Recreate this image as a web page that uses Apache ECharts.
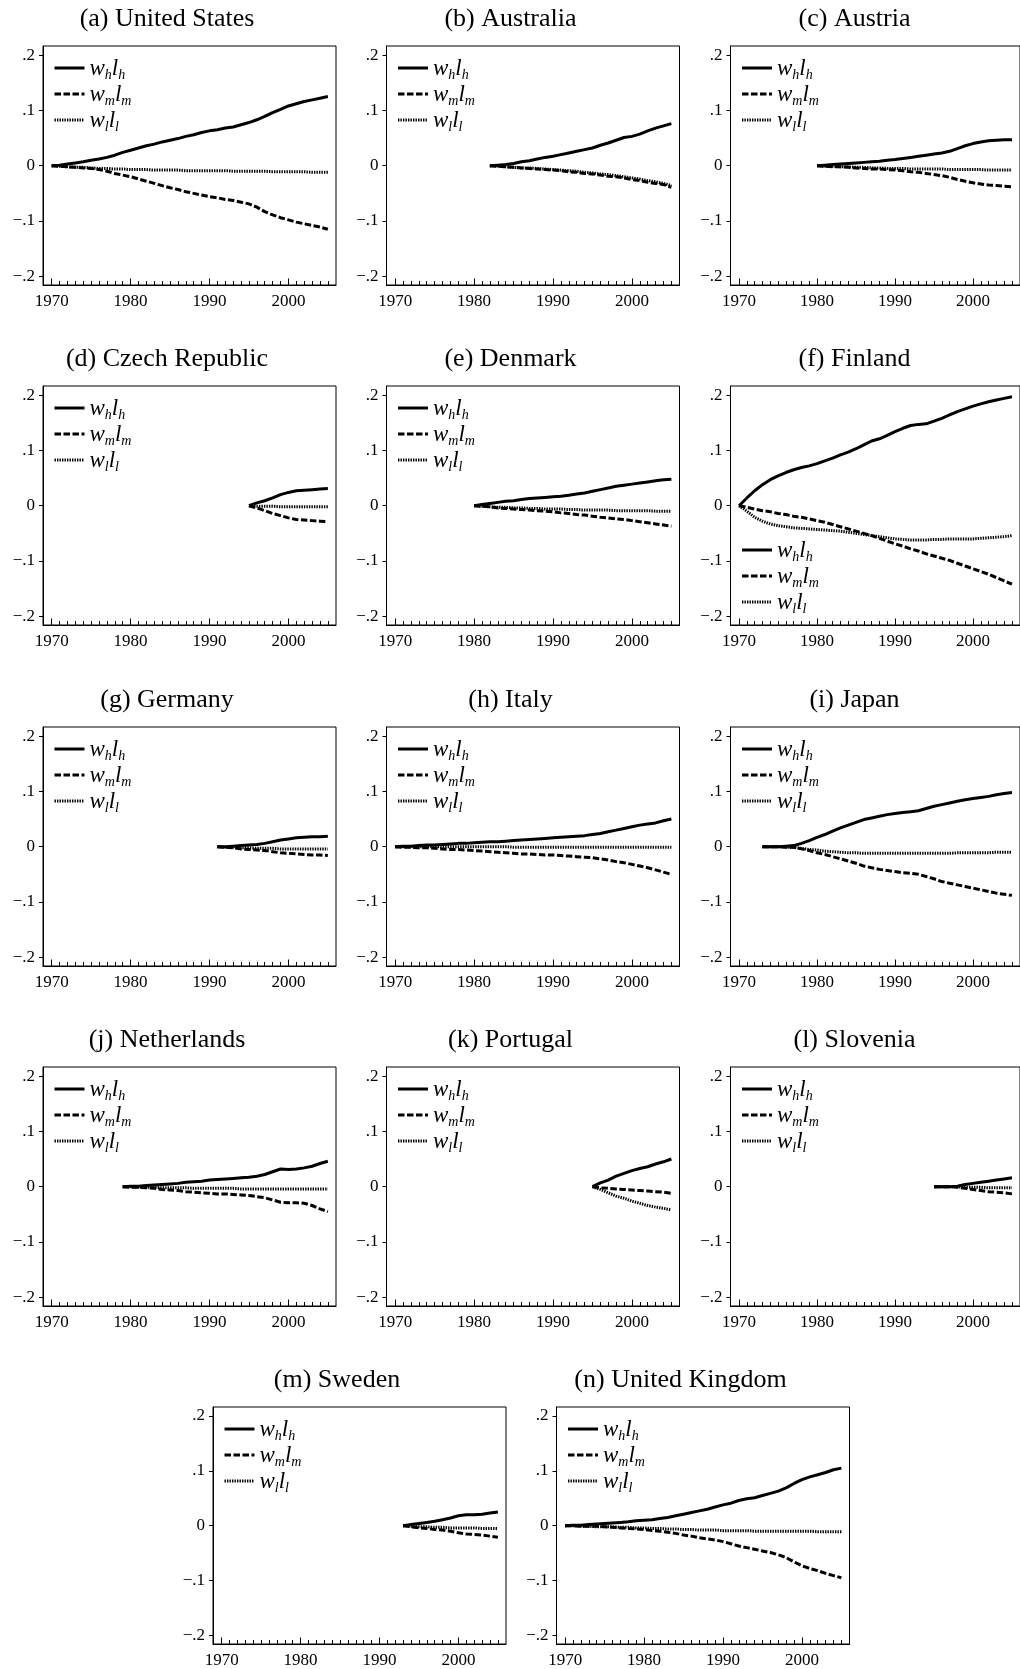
<!DOCTYPE html>
<html><head><meta charset="utf-8">
<script src="https://cdn.jsdelivr.net/npm/echarts/dist/echarts.min.js"></script>
<style>html,body{margin:0;padding:0;background:#fff}#c{width:1020px;height:1669px}</style>
</head><body><div id="c"></div>
<script>
const FONT = '"Liberation Serif","Times New Roman","DejaVu Serif",serif';

const panelTitles = ['(a) United States','(b) Australia','(c) Austria','(d) Czech Republic','(e) Denmark','(f) Finland',
  '(g) Germany','(h) Italy','(i) Japan','(j) Netherlands','(k) Portugal','(l) Slovenia','(m) Sweden','(n) United Kingdom'];
const startYears = [1970,1982,1980,1995,1980,1970,1991,1970,1973,1979,1995,1995,1993,1970];
const seriesNames = ['h','m','l'];
const yTickValues = [-0.2,-0.1,0,0.1,0.2];
const yTickLabels = ['\u2212.2','\u2212.1','0','.1','.2'];
const xMajorTicks = [1970,1980,1990,2000];
const xMinorTicks = [1970,1971,1972,1973,1974,1975,1976,1977,1978,1979,1980,1981,1982,1983,1984,1985,1986,1987,1988,1989,
  1990,1991,1992,1993,1994,1995,1996,1997,1998,1999,2000,2001,2002,2003,2004,2005];

// United States 1970-2005
const usH = [0,.001,.003,.005,.007,.010,.012,.015,.019,.024,.028,.032,.036,.039,.043,.046,.049,.053,.056,.060,.063,.065,.068,.070,.074,.078,.083,.089,.096,.102,.108,.112,.116,.119,.122,.125];
const usM = [0,-.001,-.002,-.003,-.004,-.005,-.007,-.010,-.014,-.017,-.020,-.024,-.028,-.032,-.036,-.040,-.043,-.047,-.050,-.053,-.056,-.058,-.061,-.063,-.066,-.069,-.075,-.083,-.089,-.094,-.098,-.102,-.105,-.108,-.111,-.115];
const usL = [0,-.001,-.002,-.003,-.003,-.004,-.005,-.005,-.006,-.006,-.007,-.007,-.007,-.008,-.008,-.008,-.008,-.009,-.009,-.009,-.009,-.009,-.009,-.010,-.010,-.010,-.010,-.010,-.011,-.011,-.011,-.011,-.011,-.012,-.012,-.012];
// Australia 1982-2005
const auH = [0,.001,.002,.004,.007,.009,.012,.015,.017,.020,.023,.026,.029,.032,.037,.041,.046,.051,.053,.057,.063,.068,.072,.076];
const auM = [0,-.001,-.002,-.003,-.004,-.005,-.006,-.007,-.008,-.009,-.011,-.012,-.014,-.015,-.017,-.019,-.020,-.022,-.025,-.027,-.030,-.032,-.034,-.039];
const auL = [0,-.001,-.002,-.003,-.004,-.004,-.005,-.006,-.007,-.008,-.009,-.010,-.012,-.013,-.015,-.016,-.018,-.020,-.022,-.024,-.027,-.029,-.032,-.036];
// Austria 1980-2005
const atH = [0,.001,.002,.003,.004,.005,.006,.007,.008,.010,.011,.013,.015,.017,.019,.021,.023,.026,.031,.036,.040,.043,.045,.046,.047,.047];
const atM = [0,-.001,-.002,-.002,-.003,-.004,-.005,-.006,-.006,-.007,-.008,-.009,-.011,-.012,-.014,-.016,-.018,-.021,-.025,-.028,-.031,-.033,-.035,-.036,-.037,-.038];
const atL = [0,-.001,-.001,-.002,-.002,-.003,-.003,-.004,-.004,-.005,-.005,-.005,-.006,-.006,-.006,-.006,-.006,-.007,-.007,-.007,-.007,-.007,-.008,-.008,-.008,-.008];
// Czech Republic 1995-2005
const czH = [0,.005,.009,.014,.020,.024,.027,.028,.029,.030,.031];
const czM = [0,-.004,-.009,-.014,-.018,-.022,-.025,-.026,-.027,-.028,-.029];
const czL = [0,-.001,-.001,-.001,-.002,-.002,-.002,-.002,-.002,-.002,-.002];
// Denmark 1980-2005
const dkH = [0,.002,.004,.006,.008,.009,.011,.013,.014,.015,.016,.017,.019,.021,.023,.026,.029,.032,.035,.037,.039,.041,.043,.045,.047,.048];
const dkM = [0,-.001,-.002,-.004,-.005,-.006,-.007,-.008,-.009,-.010,-.011,-.013,-.014,-.016,-.017,-.019,-.021,-.022,-.024,-.025,-.027,-.029,-.031,-.033,-.035,-.037];
const dkL = [0,-.001,-.002,-.003,-.003,-.004,-.004,-.005,-.005,-.006,-.006,-.006,-.007,-.007,-.008,-.008,-.008,-.008,-.009,-.009,-.009,-.009,-.009,-.010,-.010,-.010];
// Finland 1970-2005
const fiH = [0,.014,.027,.038,.047,.054,.060,.065,.069,.072,.076,.081,.086,.092,.097,.103,.110,.117,.121,.127,.134,.140,.145,.147,.148,.153,.158,.164,.170,.175,.180,.184,.188,.191,.194,.197];
const fiM = [0,-.003,-.006,-.009,-.011,-.014,-.016,-.019,-.021,-.024,-.027,-.030,-.034,-.038,-.042,-.046,-.050,-.054,-.059,-.064,-.069,-.073,-.078,-.082,-.087,-.091,-.095,-.099,-.104,-.109,-.114,-.119,-.124,-.130,-.136,-.142];
const fiL = [0,-.010,-.021,-.028,-.033,-.036,-.038,-.040,-.041,-.042,-.043,-.044,-.045,-.046,-.048,-.050,-.052,-.054,-.056,-.058,-.060,-.061,-.062,-.062,-.062,-.061,-.061,-.060,-.060,-.060,-.060,-.059,-.058,-.057,-.056,-.054];
// Germany 1991-2005
const deH = [0,0,.001,.002,.003,.004,.006,.009,.012,.014,.016,.017,.018,.018,.019];
const deM = [0,-.001,-.002,-.004,-.005,-.006,-.007,-.009,-.011,-.012,-.013,-.014,-.015,-.015,-.016];
const deL = [0,-.001,-.001,-.002,-.002,-.003,-.003,-.003,-.004,-.004,-.004,-.004,-.004,-.004,-.004];
// Italy 1970-2005
const itH = [0,.001,.001,.002,.003,.003,.004,.005,.006,.006,.007,.008,.009,.009,.010,.011,.012,.013,.014,.015,.016,.017,.018,.019,.020,.022,.024,.027,.030,.033,.036,.039,.041,.043,.047,.050];
const itM = [0,-.001,-.001,-.002,-.002,-.003,-.004,-.005,-.005,-.006,-.007,-.008,-.009,-.010,-.011,-.012,-.013,-.013,-.014,-.015,-.015,-.016,-.017,-.018,-.019,-.020,-.022,-.024,-.027,-.029,-.032,-.035,-.038,-.042,-.046,-.050];
const itL = [0,0,0,0,0,0,0,0,0,0,0,0,0,0,0,-.001,-.001,-.001,-.001,-.001,-.001,-.001,-.001,-.001,-.001,-.001,-.001,-.001,-.001,-.001,-.001,-.001,-.001,-.001,-.001,-.001];
// Japan 1973-2005
const jpH = [0,0,0,.001,.002,.006,.011,.017,.022,.028,.034,.039,.044,.049,.052,.055,.058,.060,.062,.063,.065,.069,.073,.076,.079,.082,.085,.087,.089,.091,.094,.096,.098];
const jpM = [0,0,0,-.001,-.001,-.004,-.007,-.011,-.014,-.018,-.022,-.026,-.030,-.035,-.038,-.041,-.043,-.045,-.047,-.048,-.050,-.054,-.058,-.063,-.066,-.069,-.072,-.075,-.078,-.081,-.084,-.086,-.088];
const jpL = [0,0,0,-.001,-.001,-.003,-.005,-.006,-.008,-.009,-.010,-.011,-.011,-.012,-.012,-.012,-.012,-.012,-.012,-.012,-.012,-.012,-.012,-.012,-.012,-.011,-.011,-.011,-.011,-.011,-.010,-.010,-.010];
// Netherlands 1979-2005
const nlH = [0,.001,.001,.002,.003,.004,.005,.006,.008,.009,.010,.012,.013,.014,.015,.016,.017,.019,.022,.027,.032,.031,.032,.034,.037,.042,.046];
const nlM = [0,-.001,-.001,-.002,-.003,-.005,-.006,-.007,-.009,-.010,-.011,-.012,-.013,-.013,-.014,-.015,-.016,-.018,-.020,-.024,-.028,-.029,-.029,-.030,-.034,-.040,-.045];
const nlL = [0,0,-.001,-.001,-.001,-.002,-.002,-.002,-.002,-.003,-.003,-.003,-.003,-.003,-.003,-.004,-.004,-.004,-.004,-.004,-.004,-.004,-.004,-.004,-.004,-.004,-.004];
// Portugal 1995-2005
const ptH = [0,.007,.012,.019,.024,.029,.033,.036,.041,.045,.050];
const ptM = [0,-.002,-.003,-.004,-.005,-.006,-.007,-.008,-.009,-.010,-.012];
const ptL = [0,-.005,-.011,-.017,-.021,-.026,-.030,-.034,-.037,-.039,-.042];
// Slovenia 1995-2005
const siH = [0,0,0,.001,.004,.006,.008,.010,.012,.014,.016];
const siM = [0,0,0,-.001,-.003,-.005,-.007,-.009,-.010,-.011,-.013];
const siL = [0,0,0,0,-.001,-.001,-.001,-.002,-.002,-.002,-.002];
// Sweden 1993-2005
const seH = [0,.002,.004,.006,.008,.011,.014,.018,.020,.020,.021,.023,.025];
const seM = [0,-.002,-.004,-.005,-.007,-.008,-.010,-.013,-.015,-.016,-.017,-.019,-.021];
const seL = [0,-.001,-.002,-.002,-.003,-.003,-.004,-.004,-.004,-.004,-.005,-.005,-.005];
// United Kingdom 1970-2005
const ukH = [0,.001,.001,.002,.003,.004,.005,.006,.007,.009,.010,.011,.013,.015,.018,.021,.024,.027,.030,.034,.038,.041,.046,.049,.051,.055,.059,.063,.069,.077,.084,.089,.093,.097,.102,.105];
const ukM = [0,0,-.001,-.001,-.001,-.002,-.003,-.004,-.005,-.006,-.007,-.009,-.010,-.012,-.014,-.017,-.019,-.022,-.024,-.026,-.029,-.033,-.037,-.040,-.043,-.046,-.049,-.053,-.058,-.066,-.073,-.078,-.082,-.087,-.091,-.095];
const ukL = [0,0,-.001,-.001,-.002,-.002,-.002,-.003,-.003,-.004,-.004,-.005,-.005,-.006,-.006,-.007,-.007,-.008,-.008,-.008,-.009,-.009,-.009,-.009,-.010,-.010,-.010,-.010,-.010,-.010,-.010,-.010,-.011,-.011,-.011,-.011];

const panelH = [usH,auH,atH,czH,dkH,fiH,deH,itH,jpH,nlH,ptH,siH,seH,ukH];
const panelM = [usM,auM,atM,czM,dkM,fiM,deM,itM,jpM,nlM,ptM,siM,seM,ukM];
const panelL = [usL,auL,atL,czL,dkL,fiL,deL,itL,jpL,nlL,ptL,siL,seL,ukL];

// ---- layout ----
const GW = 293, GH = 239;
const colLeft = [43, 386.5, 730.5];
const rowTop = [46, 386, 727, 1067, 1407];
const lastRowLeft = [213, 556.5];
const X_MIN = 1968.9, X_MAX = 2006.03, Y_MIN = -0.2157, Y_MAX = 0.2164;
const lineStyles = [
  {color:'#000', width:3, type:'solid', cap:'butt'},
  {color:'#000', width:3, type:[6.5,2.5], cap:'butt'},
  {color:'#000', width:3, type:[1.4,1.1], cap:'butt'}
];

const grids=[], xAxes=[], yAxes=[], series=[], legends=[], graphics=[];
const labelText = {fontFamily:FONT, fontSize:17, color:'#000'};

for (let i=0;i<14;i++){
  let left, top;
  if (i<12){ left = colLeft[i%3]; top = rowTop[Math.floor(i/3)]; }
  else { left = lastRowLeft[i-12]; top = rowTop[4]; }
  grids.push({left, top, width:GW, height:GH, show:true, borderColor:'#000', borderWidth:1, containLabel:false});
  // minor ticks axis (used by series)
  xAxes.push({type:'value', gridIndex:i, min:X_MIN, max:X_MAX, position:'bottom',
    axisLine:{show:true, onZero:false, lineStyle:{color:'#000', width:1}},
    axisTick:{show:true, inside:true, length:4, customValues:xMinorTicks, lineStyle:{color:'#000', width:1}},
    axisLabel:{show:false}, splitLine:{show:false}});
  // major ticks + labels
  xAxes.push({type:'value', gridIndex:i, min:X_MIN, max:X_MAX, position:'bottom',
    axisLine:{show:false, onZero:false},
    axisTick:{show:true, inside:true, length:6.5, customValues:xMajorTicks, lineStyle:{color:'#000', width:1}},
    axisLabel:{show:true, customValues:xMajorTicks, margin:8, formatter:v=>String(v), ...labelText},
    splitLine:{show:false}});
  yAxes.push({type:'value', gridIndex:i, min:Y_MIN, max:Y_MAX,
    axisLine:{show:true, onZero:false, lineStyle:{color:'#000', width:1}},
    axisTick:{show:true, length:4, customValues:yTickValues, lineStyle:{color:'#000', width:1}},
    axisLabel:{show:true, customValues:yTickValues, margin:8, ...labelText,
      formatter:v=>{const k=yTickValues.findIndex(t=>Math.abs(t-v)<1e-9); return k>=0?yTickLabels[k]:'';}},
    splitLine:{show:false}});
  const sets=[panelH[i],panelM[i],panelL[i]];
  sets.forEach((arr,s)=>{
    series.push({type:'line', name:seriesNames[s], xAxisIndex:2*i, yAxisIndex:i,
      data:arr.map((v,k)=>[startYears[i]+k, v]), symbol:'none', showSymbol:false,
      lineStyle:lineStyles[s], itemStyle:{color:'#000'}, z:5-s, animation:false, silent:true});
  });
  const legTop = (i===5) ? top+153 : top+11;
  legends.push({orient:'vertical', left:left+10, top:legTop, padding:0, itemWidth:30, itemHeight:14, itemGap:1,
    data:seriesNames.slice(), selectedMode:false,
    itemStyle:{opacity:0, borderWidth:0},
    lineStyle:{width:3},
    formatter:n=>`{v|w}{s|${n}}{v|l}{s|${n}}`,
    textStyle:{color:'#000', fontFamily:FONT, fontSize:23,
      rich:{
        v:{fontFamily:FONT, fontStyle:'italic', fontSize:23, lineHeight:22, verticalAlign:'top', color:'#000'},
        s:{fontFamily:FONT, fontStyle:'italic', fontSize:14, lineHeight:14, padding:[11,0,0,0], verticalAlign:'top', color:'#000'}
      }}});
  graphics.push({type:'text', x:left+124, y:top-27, silent:true,
    style:{text:panelTitles[i], fontFamily:FONT, fontSize:26, fill:'#000', align:'center', verticalAlign:'middle'}});
}

const chart = echarts.init(document.getElementById('c'), null, {renderer:'canvas'});
chart.setOption({
  backgroundColor:'#fff', animation:false,
  grid:grids, xAxis:xAxes, yAxis:yAxes, series, legend:legends, graphic:graphics
});
</script></body></html>
